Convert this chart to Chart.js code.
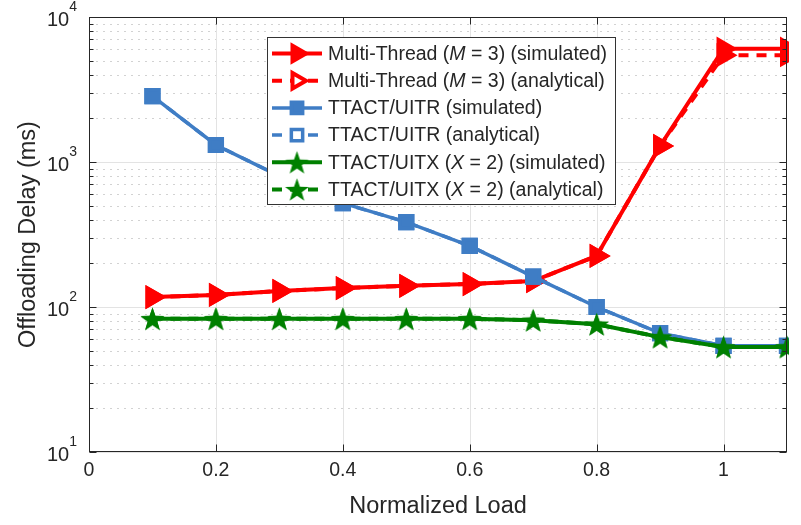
<!DOCTYPE html>
<html>
<head>
<meta charset="utf-8">
<script src="https://cdn.jsdelivr.net/npm/chart.js@4.4.0/dist/chart.umd.min.js"></script>
<style>
  html, body { margin: 0; padding: 0; background: #fff; }
  #wrap { width: 801px; height: 525px; }
</style>
</head>
<body>
<div id="wrap"><canvas id="delay_chart" width="801" height="525"></canvas></div>
<script>
// normalized load on the x axis
const loads = [0.1, 0.2, 0.3, 0.4, 0.5, 0.6, 0.7, 0.8, 0.9, 1.0, 1.1];

// offloading delay in ms
const multiSim = [117, 121, 129, 135, 140, 144, 151, 225, 1290, 6050, 6050];
const multiAna = [117, 121, 129, 135, 140, 144, 151, 225, 1290, 5450, 5450];
const uitrSim = [2850, 1310, 800, 520, 385, 264, 162, 100, 66, 54, 54];
const uitrAna = [2850, 1310, 800, 520, 385, 264, 162, 100, 66, 54, 54];
const uitxSim = [83, 83, 83, 83, 83, 83, 81, 76, 62, 53, 53];
const uitxAna = [83, 83, 83, 83, 83, 83, 81, 76, 62, 53, 53];

const xTicks = [0, 0.2, 0.4, 0.6, 0.8, 1];
const xTickLabels = ['0', '0.2', '0.4', '0.6', '0.8', '1'];
const yDecades = [10, 100, 1000, 10000];
const yExponents = ['1', '2', '3', '4'];

const FONT = '"Liberation Sans", Arial, sans-serif';
const INK = '#262626';
const RED = '#ff0000';
const BLUE = '#3f7dc5';
const GREEN = '#008000';

// filled five-pointed star, used as a point style
function starMarker(r, color) {
  const c = document.createElement('canvas');
  const s = Math.ceil(r * 2) + 2;
  c.width = c.height = s;
  const g = c.getContext('2d');
  g.fillStyle = color;
  g.beginPath();
  for (let i = 0; i < 10; i++) {
    const rad = i % 2 === 0 ? r : r * 0.4;
    const a = -Math.PI / 2 + i * Math.PI / 5;
    const px = s / 2 + rad * Math.cos(a);
    const py = s / 2 + rad * Math.sin(a) + r * 0.1;
    if (i === 0) g.moveTo(px, py); else g.lineTo(px, py);
  }
  g.closePath();
  g.fill();
  return c;
}
const star = starMarker(12.5, GREEN);

const marker = {
  tri: { pointStyle: 'triangle', pointRotation: 90, pointRadius: 10, pointBorderWidth: 4 },
  sq: { pointStyle: 'rect', pointRotation: 0, pointRadius: 9, pointBorderWidth: 3.5 },
  star: { pointStyle: star, pointRotation: 0, pointRadius: 12, pointBorderWidth: 0 }
};

const makeSeries = (label, ys, color, width, dashed, m) => ({
  label,
  data: loads.map((x, i) => ({ x, y: ys[i] })),
  borderColor: color,
  borderWidth: width,
  borderDash: dashed ? [10, 8] : [],
  pointBorderColor: color,
  pointBackgroundColor: color,
  legendFill: dashed ? '#ffffff' : color,
  ...marker[m],
  fill: false,
  tension: 0,
  clip: 2
});

const datasets = [
  makeSeries('Multi-Thread (*M* = 3) (simulated)', multiSim, RED, 4, false, 'tri'),
  makeSeries('Multi-Thread (*M* = 3) (analytical)', multiAna, RED, 4, true, 'tri'),
  makeSeries('TTACT/UITR (simulated)', uitrSim, BLUE, 3.5, false, 'sq'),
  makeSeries('TTACT/UITR (analytical)', uitrAna, BLUE, 3.5, true, 'sq'),
  makeSeries('TTACT/UITX (*X* = 2) (simulated)', uitxSim, GREEN, 4, false, 'star'),
  makeSeries('TTACT/UITX (*X* = 2) (analytical)', uitxAna, GREEN, 4, true, 'star')
];
// later series are painted over earlier ones
datasets.forEach((d, i) => { d.order = datasets.length - i; });

// grid lines behind the data
const gridPlugin = {
  id: 'grid',
  beforeDatasetsDraw(chart) {
    const { ctx, chartArea: a, scales: { x, y } } = chart;
    ctx.save();
    ctx.lineWidth = 1;
    // dotted minor lines
    ctx.strokeStyle = '#d2d2d2';
    ctx.setLineDash([2, 5]);
    yDecades.slice(0, -1).forEach(d => {
      for (let k = 2; k <= 9; k++) {
        const py = Math.round(y.getPixelForValue(d * k)) + 0.5;
        ctx.beginPath(); ctx.moveTo(a.left, py); ctx.lineTo(a.right, py); ctx.stroke();
      }
    });
    // solid major lines
    ctx.setLineDash([]);
    ctx.strokeStyle = '#e3e3e3';
    yDecades.forEach(d => {
      const py = Math.round(y.getPixelForValue(d)) + 0.5;
      ctx.beginPath(); ctx.moveTo(a.left, py); ctx.lineTo(a.right, py); ctx.stroke();
    });
    xTicks.forEach(t => {
      const px = Math.round(x.getPixelForValue(t)) + 0.5;
      ctx.beginPath(); ctx.moveTo(px, a.top); ctx.lineTo(px, a.bottom); ctx.stroke();
    });
    ctx.restore();
  }
};

// draw text where *...* parts are italic
function richText(ctx, text, x, y, size) {
  const parts = text.split('*');
  let cx = x;
  parts.forEach((p, i) => {
    ctx.font = (i % 2 ? 'italic ' : '') + size + 'px ' + FONT;
    ctx.fillText(p, cx, y);
    cx += ctx.measureText(p).width;
  });
}

// axes box, tick marks, tick labels, titles and the legend
const framePlugin = {
  id: 'frame',
  afterDatasetsDraw(chart) {
    const { ctx, chartArea: a, scales: { x, y } } = chart;
    const H = Chart.helpers;
    ctx.save();
    ctx.strokeStyle = INK;
    ctx.lineWidth = 1;
    const L = Math.round(a.left) + 0.5, R = Math.round(a.right) - 0.5;
    const T = Math.round(a.top) + 0.5, B = Math.round(a.bottom) - 0.5;
    ctx.strokeRect(L, T, R - L, B - T);

    ctx.beginPath();
    yDecades.forEach((d, di) => {
      for (let k = 1; k <= 9; k++) {
        if (k > 1 && di === yDecades.length - 1) break;
        const len = k === 1 ? 7 : 4;
        const py = Math.round(y.getPixelForValue(d * k)) + 0.5;
        ctx.moveTo(L, py); ctx.lineTo(L + len, py);
        ctx.moveTo(R, py); ctx.lineTo(R - len, py);
      }
    });
    xTicks.forEach(t => {
      const px = Math.round(x.getPixelForValue(t)) + 0.5;
      ctx.moveTo(px, B); ctx.lineTo(px, B - 7);
      ctx.moveTo(px, T); ctx.lineTo(px, T + 7);
    });
    ctx.stroke();

    ctx.fillStyle = INK;
    ctx.textBaseline = 'middle';
    // x tick labels
    ctx.textAlign = 'center';
    ctx.font = '19.5px ' + FONT;
    xTicks.forEach((t, i) => {
      ctx.fillText(xTickLabels[i], x.getPixelForValue(t), a.bottom + 19);
    });
    // y tick labels, 10 with a raised exponent
    yDecades.forEach((d, i) => {
      const py = y.getPixelForValue(d);
      ctx.textAlign = 'right';
      ctx.font = '14px ' + FONT;
      const ew = ctx.measureText(yExponents[i]).width;
      ctx.fillText(yExponents[i], a.left - 12, py - 10);
      ctx.font = '20px ' + FONT;
      ctx.fillText('10', a.left - 12 - ew, py + 3);
    });
    // axis titles
    ctx.textAlign = 'center';
    ctx.font = '23.5px ' + FONT;
    ctx.fillText('Normalized Load', (a.left + a.right) / 2, a.bottom + 55);
    ctx.save();
    ctx.translate(29, (a.top + a.bottom) / 2);
    ctx.rotate(-Math.PI / 2);
    ctx.fillText('Offloading Delay (ms)', 0, 0);
    ctx.restore();

    // legend box
    const box = { x: 267.5, y: 37.5, w: 348, h: 167 };
    ctx.fillStyle = '#ffffff';
    ctx.fillRect(box.x, box.y, box.w, box.h);
    ctx.strokeStyle = '#333333';
    ctx.strokeRect(box.x, box.y, box.w, box.h);
    chart.data.datasets.forEach((ds, i) => {
      const ry = 53.5 + i * 27.2;
      ctx.save();
      ctx.strokeStyle = ds.borderColor;
      ctx.lineWidth = ds.borderWidth;
      ctx.setLineDash(ds.borderDash);
      ctx.beginPath(); ctx.moveTo(272, ry); ctx.lineTo(322, ry); ctx.stroke();
      ctx.setLineDash([]);
      ctx.strokeStyle = ds.pointBorderColor;
      ctx.fillStyle = ds.legendFill;
      ctx.lineWidth = ds.pointBorderWidth;
      H.drawPoint(ctx, {
        pointStyle: ds.pointStyle,
        rotation: ds.pointRotation,
        radius: ds.pointRadius - 1,
        borderWidth: ds.pointBorderWidth
      }, 297, ry);
      ctx.restore();
      ctx.fillStyle = INK;
      ctx.textAlign = 'left';
      ctx.textBaseline = 'middle';
      richText(ctx, ds.label, 328, ry + 1, 19.5);
    });
    ctx.restore();
  }
};

new Chart(document.getElementById('delay_chart').getContext('2d'), {
  type: 'line',
  data: { datasets },
  options: {
    responsive: false,
    animation: false,
    events: [],
    layout: { padding: { left: 89, right: 5, top: 17, bottom: 73 } },
    scales: {
      x: { type: 'linear', min: 0, max: 1.1, display: false },
      y: { type: 'logarithmic', min: 10, max: 10000, display: false }
    },
    plugins: {
      legend: { display: false },
      tooltip: { enabled: false }
    }
  },
  plugins: [gridPlugin, framePlugin]
});
</script>
</body>
</html>
